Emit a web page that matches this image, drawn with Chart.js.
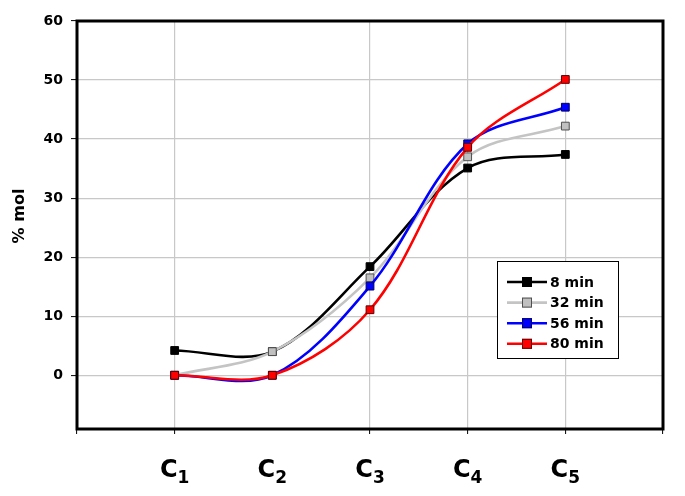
<!DOCTYPE html>
<html>
<head>
<meta charset="utf-8">
<script src="https://cdn.jsdelivr.net/npm/chart.js@4"></script>
<style>
  html, body { margin: 0; padding: 0; background: #fff; }
  #wrap { width: 685px; height: 496px; }
</style>
</head>
<body>
<div id="wrap"><canvas id="grafico" width="685" height="496"></canvas></div>
<script>
// categorias del eje x (la cifra tras la C va en subindice)
const categories = ['C1', 'C2', 'C3', 'C4', 'C5'];

const serie_8 = [4.2, 4.0, 18.4, 35.1, 37.4];
const serie_32 = [0.0, 4.0, 16.5, 37.0, 42.2];
const serie_56 = [0.0, 0.0, 15.1, 39.2, 45.4];
const serie_80 = [0.0, 0.0, 11.1, 38.6, 50.1];

const y_ticks = [0, 10, 20, 30, 40, 50, 60];
const y_title = '% mol';

const font_family = '"DejaVu Sans", "Liberation Sans", Arial, sans-serif';

const estilos = [
    { label: '8 min',  data: serie_8,  line: '#000000', fill: '#000000', edge: '#000000' },
    { label: '32 min', data: serie_32, line: '#c4c4c4', fill: '#c0c0c0', edge: '#505050' },
    { label: '56 min', data: serie_56, line: '#0000ff', fill: '#0000ff', edge: '#000060' },
    { label: '80 min', data: serie_80, line: '#ff0000', fill: '#ff0000', edge: '#600000' }
];

function make_dataset(s, i)
{
    return {
        label: s.label,
        data: s.data.map(function (v, k) { return { x: k + 1, y: v }; }),
        borderColor: s.line,
        backgroundColor: s.fill,
        pointBorderColor: s.edge,
        pointBackgroundColor: s.fill,
        pointStyle: 'rect',
        pointRadius: 5.5,
        pointBorderWidth: 1,
        borderWidth: 2.6,
        tension: 0.34,
        order: estilos.length - i,
        clip: false
    };
}

// marco negro, etiquetas C con subindice, titulo y leyenda
const extras = {
    id: 'extras',
    afterDraw: function (chart) {
        const ctx = chart.ctx;
        const area = chart.chartArea;
        const xs = chart.scales.x;

        ctx.save();
        ctx.strokeStyle = '#000';
        ctx.lineWidth = 3;
        ctx.strokeRect(area.left, area.top, area.right - area.left, area.bottom - area.top);

        // etiquetas del eje x
        ctx.fillStyle = '#000';
        ctx.textBaseline = 'alphabetic';
        ctx.textAlign = 'left';
        categories.forEach(function (c, k) {
            const big = c.charAt(0);
            const sub = c.slice(1);
            ctx.font = 'bold 24px ' + font_family;
            const w1 = ctx.measureText(big).width;
            ctx.font = 'bold 17px ' + font_family;
            const w2 = ctx.measureText(sub).width;
            const x0 = xs.getPixelForValue(k + 1) - (w1 + w2) / 2;
            ctx.font = 'bold 24px ' + font_family;
            ctx.fillText(big, x0, 477);
            ctx.font = 'bold 17px ' + font_family;
            ctx.fillText(sub, x0 + w1, 483);
        });

        // titulo del eje y
        ctx.save();
        ctx.translate(20, 216);
        ctx.rotate(-Math.PI / 2);
        ctx.textAlign = 'center';
        ctx.textBaseline = 'middle';
        ctx.font = 'bold 16px ' + font_family;
        ctx.fillText(y_title, 0, 0);
        ctx.restore();

        // leyenda
        const bx = 497, by = 261, bw = 121, bh = 97;
        ctx.fillStyle = '#fff';
        ctx.fillRect(bx, by, bw, bh);
        ctx.strokeStyle = '#000';
        ctx.lineWidth = 1;
        ctx.strokeRect(bx + 0.5, by + 0.5, bw, bh);

        estilos.forEach(function (s, k) {
            const yy = 282 + k * 20.6;
            ctx.strokeStyle = s.line;
            ctx.lineWidth = 2.6;
            ctx.beginPath();
            ctx.moveTo(507, yy);
            ctx.lineTo(547, yy);
            ctx.stroke();
            ctx.fillStyle = s.fill;
            ctx.fillRect(522, yy - 5, 10, 10);
            ctx.strokeStyle = s.edge;
            ctx.lineWidth = 1;
            ctx.strokeRect(522.5, yy - 4.5, 9, 9);
            ctx.fillStyle = '#000';
            ctx.font = 'bold 14px ' + font_family;
            ctx.textAlign = 'left';
            ctx.textBaseline = 'middle';
            ctx.fillText(s.label, 550, yy + 1);
        });
        ctx.restore();
    }
};

const chart = new Chart(document.getElementById('grafico'), {
    type: 'line',
    data: {
        datasets: estilos.map(make_dataset)
    },
    options: {
        responsive: false,
        animation: false,
        events: [],
        layout: {
            padding: { left: 0, top: 21, right: 22, bottom: 0 }
        },
        scales: {
            x: {
                type: 'linear',
                min: 0,
                max: 6,
                afterBuildTicks: function (scale) {
                    scale.ticks = [0, 1, 2, 3, 4, 5, 6].map(function (v) { return { value: v }; });
                },
                afterFit: function (scale) { scale.height = 67; },
                ticks: {
                    callback: function () { return ''; }
                },
                border: { display: false },
                grid: {
                    color: function (c) {
                        const v = c.tick ? c.tick.value : 0;
                        return (v === 1 || v === 3 || v === 4 || v === 5) ? '#c8c8c8' : 'rgba(0,0,0,0)';
                    },
                    tickColor: function (c) {
                        const v = c.tick ? c.tick.value : 0;
                        return v === 2 ? 'rgba(0,0,0,0)' : '#000';
                    },
                    lineWidth: 1.2,
                    tickLength: 5,
                    tickWidth: 1
                }
            },
            y: {
                min: -9.1,
                max: 60,
                afterBuildTicks: function (scale) {
                    scale.ticks = y_ticks.map(function (v) { return { value: v }; });
                },
                afterFit: function (scale) { scale.width = 77; },
                ticks: {
                    color: '#000',
                    padding: 8,
                    font: { family: font_family, size: 14, weight: 'bold' }
                },
                border: { display: false },
                grid: {
                    color: function (c) {
                        return (c.tick && c.tick.value === 60) ? 'rgba(0,0,0,0)' : '#c8c8c8';
                    },
                    tickColor: '#000',
                    lineWidth: 1.2,
                    tickLength: 6,
                    tickWidth: 1
                }
            }
        },
        plugins: {
            legend: { display: false },
            tooltip: { enabled: false }
        }
    },
    plugins: [extras]
});
</script>
</body>
</html>
